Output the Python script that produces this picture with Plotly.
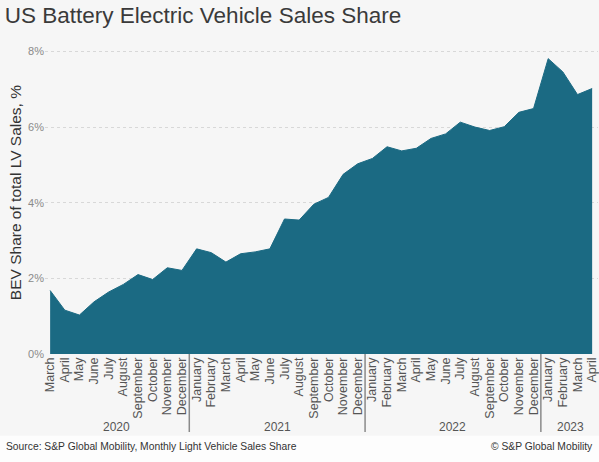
import plotly.graph_objects as go

# monthly BEV share of US light vehicle sales, Mar 2020 - Apr 2023
months = [
    "March", "April", "May", "June", "July", "August", "September", "October", "November", "December",
    "January", "February", "March", "April", "May", "June", "July", "August", "September", "October", "November", "December",
    "January", "February", "March", "April", "May", "June", "July", "August", "September", "October", "November", "December",
    "January", "February", "March", "April",
]
share = [
    1.68, 1.16, 1.03, 1.38, 1.64, 1.84, 2.10, 1.97, 2.28, 2.21,
    2.78, 2.68, 2.43, 2.65, 2.70, 2.78, 3.57, 3.54, 3.96, 4.14, 4.75, 5.03,
    5.17, 5.48, 5.37, 5.44, 5.70, 5.82, 6.13, 6.00, 5.91, 6.01, 6.39, 6.49,
    7.81, 7.46, 6.86, 7.02,
]
years = ["2020", "2021", "2022", "2023"]
year_counts = [10, 12, 12, 4]
y_ticks = [0, 2, 4, 6, 8]
y_labels = ["0%", "2%", "4%", "6%", "8%"]

x = list(range(len(months)))

fig = go.Figure()
fig.add_trace(go.Scatter(
    x=x, y=share, mode="lines", fill="tozeroy",
    line=dict(color="#1b6a83", width=1),
    fillcolor="#1b6a83", hoverinfo="skip", showlegend=False,
))

# year labels and separators under the month labels
start = 0
shapes = []
annotations = []
for yr, n in zip(years, year_counts):
    annotations.append(dict(
        x=start + (n - 1) / 2, y=-0.234, xref="x", yref="paper", yanchor="middle",
        text=yr, showarrow=False, font=dict(size=12, color="#555")))
    shapes.append(dict(
        type="line", xref="x", yref="paper", x0=start - 0.5, x1=start - 0.5,
        y0=0, y1=-0.25, line=dict(color="#8a8a8a", width=1.5)))
    start += n

# footer strip
shapes.append(dict(type="rect", xref="paper", yref="paper", x0=-0.1, x1=1.1,
                   y0=-0.262, y1=-0.36, fillcolor="#fdfdfd", line=dict(width=0), layer="below"))

annotations += [
    dict(x=-0.054, y=0.516, xref="paper", yref="paper", xanchor="center", yanchor="middle",
         text="BEV Share of total LV Sales, %",
         textangle=-90, showarrow=False, font=dict(size=15.5, color="#333")),
    dict(x=-0.074, y=-0.298, xref="paper", yref="paper", xanchor="left", yanchor="middle",
         text="Source: S&P Global Mobility, Monthly Light Vehicle Sales Share",
         showarrow=False, font=dict(size=10.3, color="#333")),
    dict(x=0.995, y=-0.298, xref="paper", yref="paper", xanchor="right", yanchor="middle",
         text="© S&P Global Mobility", showarrow=False, font=dict(size=10.3, color="#333")),
]

fig.update_layout(
    width=599, height=462,
    margin=dict(l=45, r=1, t=42, b=108),
    paper_bgcolor="#f6f6f6", plot_bgcolor="#f6f6f6",
    font=dict(family="Liberation Sans, Arial, sans-serif"),
    title=dict(text="US Battery Electric Vehicle Sales Share", x=0.008, xanchor="left",
               y=0.968, yanchor="middle", font=dict(size=22.5, color="#3a3a3a")),
    shapes=shapes, annotations=annotations,
)
fig.update_xaxes(
    range=[-0.35, 37.4], tickvals=x, ticktext=months, tickangle=-90,
    tickfont=dict(size=12.5, color="#555"), showgrid=False, zeroline=False,
    ticks="", showline=False, ticklabeloverflow="allow",
)
fig.update_yaxes(
    range=[0, 8.25], tickvals=y_ticks, ticktext=y_labels,
    tickfont=dict(size=11, color="#8a8a8a"), showgrid=True, gridcolor="#d8d8d8",
    griddash="dot", zeroline=False, ticks="",
)

# drop the default page margin so the figure fills the window
fig.write_html("out.html", config={"displayModeBar": False},
               post_script="document.body.style.margin='0';")
